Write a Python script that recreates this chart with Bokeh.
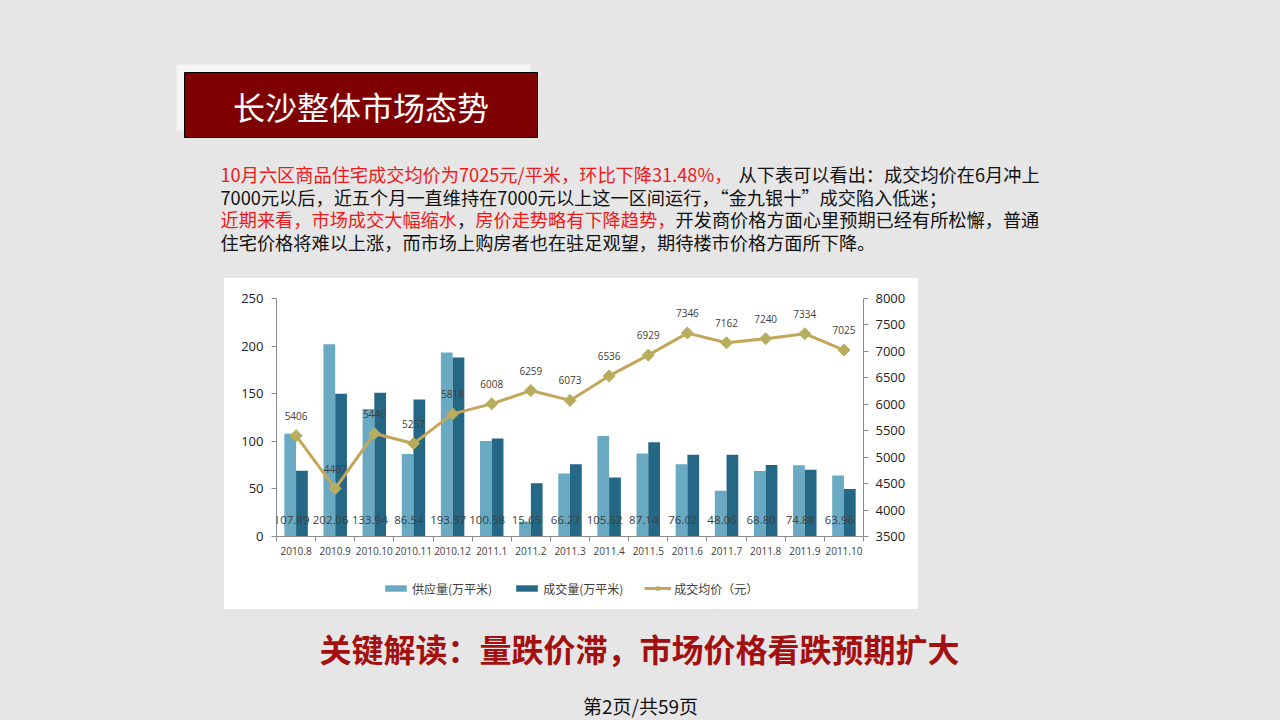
import numpy as np
from bokeh.plotting import figure
from bokeh.models import (Range1d, LinearAxis, FixedTicker, ColumnDataSource,
                          LabelSet, Legend, LegendItem)
from bokeh.layouts import column, row
from bokeh.embed import file_html
from bokeh.resources import INLINE
from bokeh.core.properties import value

# ---------------- data ----------------
months = ["2010.8", "2010.9", "2010.10", "2010.11", "2010.12", "2011.1", "2011.2",
          "2011.3", "2011.4", "2011.5", "2011.6", "2011.7", "2011.8", "2011.9", "2011.10"]
supply = [107.89, 202.06, 133.94, 86.54, 193.37, 100.38, 15.65, 66.27,
          105.62, 87.14, 76.02, 48.06, 68.80, 74.88, 63.96]
deals = [69, 150, 151, 144, 188, 103, 56, 76, 62, 99, 86, 86, 75, 70, 50]
price = [5406, 4407, 5446, 5257, 5818, 6008, 6259, 6073, 6536, 6929, 7346, 7162, 7240, 7334, 7025]
left_ticks = [0, 50, 100, 150, 200, 250]
right_ticks = [3500, 4000, 4500, 5000, 5500, 6000, 6500, 7000, 7500, 8000]
series_names = ["供应量(万平米)", "成交量(万平米)", "成交均价（元）"]

title_text = "长沙整体市场态势"
para_lines = [
    [("10月六区商品住宅成交均价为7025元/平米，环比下降31.48%，", "red"),
     ("从下表可以看出：成交均价在6月冲上", "black")],
    [("7000元以后，近五个月一直维持在7000元以上这一区间运行，“金九银十”成交陷入低迷；", "black")],
    [("近期来看，市场成交大幅缩水", "red"), ("，", "black"),
     ("房价走势略有下降趋势，", "red"), ("开发商价格方面心里预期已经有所松懈，普通", "black")],
    [("住宅价格将难以上涨，而市场上购房者也在驻足观望，期待楼市价格方面所下降。", "black")],
]
para_y = [173, 196, 218, 241]
heading_text = "关键解读：量跌价滞，市场价格看跌预期扩大"
footer_text = "第2页/共59页"

# ---------------- styles ----------------
BG = "#e6e6e6"
CJK = "Noto Sans CJK SC"
NUM = "Open Sans"
LIGHT = "#6aa9c2"
DARK = "#246886"
GOLD = "#c4a658"
MARK = "#b8ad5c"
AXIS = "#8c8c8c"
TXT = "#404040"
COLORS = {"red": "#f01818", "black": "#111111"}
PARA_FS = 18.2
PARA_X0 = 220
LINE1_BLACK_X = 738


def canvas(w, h, bg=BG):
    f = figure(width=w, height=h, x_range=Range1d(0, w), y_range=Range1d(h, 0),
               output_backend="svg", toolbar_location=None,
               x_axis_location=None, y_axis_location=None,
               min_border=0, min_border_left=0, min_border_right=0,
               min_border_top=0, min_border_bottom=0)
    f.grid.visible = False
    f.outline_line_color = None
    f.background_fill_color = bg
    f.border_fill_color = bg
    return f


# ---------------- top area ----------------
top = canvas(1280, 278)
top.quad(left=[176], right=[530], top=[64], bottom=[130], fill_color="#f6f6f6", line_color=None)
top.quad(left=[184], right=[537], top=[72], bottom=[137], fill_color="#7f0000",
         line_color="#000000", line_width=1)
top.text(x=[360.5], y=[105], text=[title_text], text_color="#ffffff",
         text_font=value(CJK), text_font_size="32px", text_align="center",
         text_baseline="middle")
for li, segs in enumerate(para_lines):
    x = PARA_X0
    for si, (t, c) in enumerate(segs):
        if li == 0 and si == 1:
            x = LINE1_BLACK_X
        top.text(x=[x], y=[para_y[li]], text=[t], text_color=COLORS[c],
                 text_font=value(CJK), text_font_size=f"{PARA_FS}px", text_align="left",
                 text_baseline="middle")
        x += len(t) * PARA_FS

# ---------------- chart ----------------
idx = np.arange(len(months))
src = ColumnDataSource(dict(
    xs=idx - 0.15, xd=idx + 0.15, x=idx,
    supply=supply, deals=deals, price=price,
    slab=[f"{v:.2f}" for v in supply], plab=[str(v) for v in price],
    zero=[0] * len(months),
))

p = figure(width=694, height=291, x_range=Range1d(-0.5, len(months) - 0.5),
           y_range=Range1d(left_ticks[0], left_ticks[-1]),
           output_backend="svg", toolbar_location=None,
           min_border_left=52, min_border_right=55, min_border_top=20, min_border_bottom=33)
p.extra_y_ranges = {"price": Range1d(right_ticks[0], right_ticks[-1])}
p.grid.visible = False
p.outline_line_color = None
p.background_fill_color = "#ffffff"
p.border_fill_color = "#ffffff"

bar_style = [dict(fill_color=LIGHT, line_color=None), dict(fill_color=DARK, line_color=None)]
line_style = dict(line_color=GOLD, line_width=3)
mark_style = dict(marker="square", angle=np.pi / 4, size=8.5, fill_color=MARK, line_color=MARK)

p.vbar(x="xs", top="supply", width=0.3, source=src, **bar_style[0])
p.vbar(x="xd", top="deals", width=0.3, source=src, **bar_style[1])
p.line(x="x", y="price", source=src, y_range_name="price", **line_style)
p.scatter(x="x", y="price", source=src, y_range_name="price", **mark_style)

p.add_layout(LabelSet(x="x", y="zero", text="slab", source=src, x_offset=-4.5, y_offset=17,
                      text_align="center", text_baseline="middle", text_font=value(NUM),
                      text_font_size="11.5px", text_color=TXT))
p.add_layout(LabelSet(x="x", y="price", text="plab", source=src, y_range_name="price",
                      y_offset=20, text_align="center", text_baseline="middle",
                      text_font=value(NUM), text_font_size="10px", text_color=TXT))

# x axis
xa = p.xaxis[0]
xa.ticker = FixedTicker(ticks=list(idx), minor_ticks=[i - 0.5 for i in range(len(months) + 1)])
xa.major_label_overrides = {int(i): m for i, m in zip(idx, months)}
xa.major_tick_line_color = None
xa.minor_tick_line_color = AXIS
xa.minor_tick_in = 0
xa.minor_tick_out = 5
xa.axis_line_color = AXIS
xa.major_label_text_font = NUM
xa.major_label_text_font_size = "10px"
xa.major_label_text_color = TXT
xa.major_label_standoff = 4

# left axis
ya = p.yaxis[0]
ya.ticker = FixedTicker(ticks=left_ticks)
ya.axis_line_color = AXIS
ya.major_tick_line_color = AXIS
ya.major_tick_in = 0
ya.major_tick_out = 5
ya.minor_tick_line_color = None
ya.major_label_text_font = NUM
ya.major_label_text_font_size = "13px"
ya.major_label_text_color = "#222222"
ya.major_label_standoff = 8

# right axis
ra = LinearAxis(y_range_name="price", ticker=FixedTicker(ticks=right_ticks))
ra.axis_line_color = AXIS
ra.major_tick_line_color = AXIS
ra.major_tick_in = 0
ra.major_tick_out = 5
ra.minor_tick_line_color = None
ra.major_label_text_font = NUM
ra.major_label_text_font_size = "13px"
ra.major_label_text_color = "#222222"
ra.major_label_standoff = 7
p.add_layout(ra, "right")

# ---------------- legend strip (below the chart, same white panel) ----------------
# same series, drawn in a strip whose ranges keep the marks out of view; only the key shows
leg = figure(width=694, height=40, x_range=Range1d(1000, 1001), y_range=Range1d(1000, 1001),
             output_backend="svg", toolbar_location=None,
             x_axis_location=None, y_axis_location=None,
             min_border=0, min_border_left=0, min_border_right=0,
             min_border_top=0, min_border_bottom=0)
leg.grid.visible = False
leg.outline_line_color = None
leg.background_fill_color = "#ffffff"
leg.border_fill_color = "#ffffff"
l1 = leg.vbar(x="xs", top="supply", width=0.3, source=src, **bar_style[0])
l2 = leg.vbar(x="xd", top="deals", width=0.3, source=src, **bar_style[1])
l3 = leg.line(x="x", y="price", source=src, **line_style)
l4 = leg.scatter(x="x", y="price", source=src, **mark_style)
legend = Legend(items=[LegendItem(label=series_names[0], renderers=[l1]),
                       LegendItem(label=series_names[1], renderers=[l2]),
                       LegendItem(label=series_names[2], renderers=[l3, l4])],
                orientation="horizontal", location=(106, 11),
                glyph_width=27, glyph_height=8, label_standoff=3, spacing=21,
                label_height=20, padding=0, margin=0, border_line_color=None,
                background_fill_alpha=0,
                label_text_font=CJK, label_text_font_size="12px", label_text_color=TXT)
leg.add_layout(legend)

left_sp = canvas(224, 331)
right_sp = canvas(362, 331)

# ---------------- bottom area ----------------
bot = canvas(1280, 111)
bot.text(x=[639], y=[38], text=[heading_text], text_color="#a3100f", text_font=value(CJK),
         text_font_size="32px", text_font_style="bold", text_align="center",
         text_baseline="middle")
bot.text(x=[640], y=[96], text=[footer_text], text_color="#111111", text_font=value(CJK),
         text_font_size="19px", text_align="center", text_baseline="middle")

layout = column(top,
                row(left_sp, column(p, leg, spacing=0, styles={"background-color": "#ffffff"}),
                    right_sp, spacing=0, styles={"background-color": BG}),
                bot, spacing=0, styles={"background-color": BG})

with open("out.html", "w") as fh:
    fh.write(file_html(layout, INLINE))
